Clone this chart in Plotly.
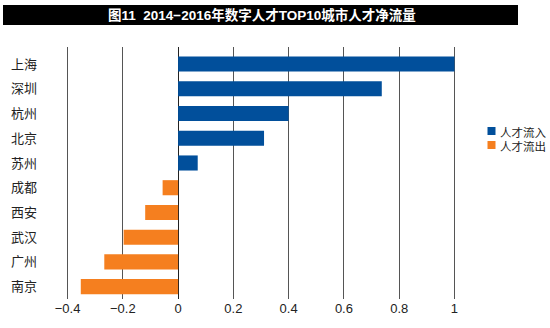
import plotly.graph_objects as go

# 2014-2016 net flow of digital talent, top 10 cities
cities = ["上海", "深圳", "杭州", "北京", "苏州", "成都", "西安", "武汉", "广州", "南京"]
net_flow = [1.0, 0.737, 0.40, 0.311, 0.071, -0.056, -0.119, -0.197, -0.267, -0.352]
tick_vals = [-0.4, -0.2, 0, 0.2, 0.4, 0.6, 0.8, 1]
tick_text = ["\u22120.4", "\u22120.2", "0", "0.2", "0.4", "0.6", "0.8", "1"]
title_text = "图11  2014\u22122016年数字人才TOP10城市人才净流量"

inflow_name = "人才流入"
outflow_name = "人才流出"
inflow_color = "#014f9b"
outflow_color = "#f57f1f"

font_family = "Liberation Sans, Arial, Noto Sans CJK SC, sans-serif"
cjk_family = "Noto Sans CJK SC, sans-serif"

fig = go.Figure()
fig.add_trace(go.Bar(
    y=[c for c, v in zip(cities, net_flow) if v >= 0],
    x=[v for v in net_flow if v >= 0],
    orientation="h", name=inflow_name, marker=dict(color=inflow_color, line=dict(width=0)),
))
fig.add_trace(go.Bar(
    y=[c for c, v in zip(cities, net_flow) if v < 0],
    x=[v for v in net_flow if v < 0],
    orientation="h", name=outflow_name, marker=dict(color=outflow_color, line=dict(width=0)),
))

W, H = 550, 328
ml, mr, mt, mb = 62, 90, 47, 29
pw, ph = W - ml - mr, H - mt - mb

def px_x(p):
    return (p - ml) / pw

def px_y(p):
    return (H - mb - p) / ph

# black title banner
fig.add_shape(type="rect", xref="paper", yref="paper",
              x0=px_x(3), x1=px_x(518), y0=px_y(25), y1=px_y(5),
              fillcolor="black", line=dict(width=0), layer="above")
fig.add_annotation(xref="paper", yref="paper", x=px_x(262), y=px_y(15),
                   text="<b>" + title_text.replace("  ", "&nbsp;&nbsp;") + "</b>", showarrow=False,
                   font=dict(color="white", size=13.5, family=font_family),
                   xanchor="center", yanchor="middle")

# compact legend at the right: small colour squares with their labels
legend_items = [(inflow_name, inflow_color, 131), (outflow_name, outflow_color, 145)]
for label, color, cy in legend_items:
    fig.add_shape(type="rect", xref="paper", yref="paper",
                  x0=px_x(487.5), x1=px_x(495.5), y0=px_y(cy + 4), y1=px_y(cy - 4),
                  fillcolor=color, line=dict(width=0))
    fig.add_annotation(xref="paper", yref="paper", x=px_x(499), y=px_y(cy),
                       text=label, showarrow=False, xanchor="left", yanchor="middle",
                       height=13, borderpad=0,
                       font=dict(size=11.5, family=cjk_family, color="#222"))

fig.update_layout(
    width=W, height=H,
    margin=dict(l=ml, r=mr, t=mt, b=mb, pad=0, autoexpand=False),
    paper_bgcolor="white", plot_bgcolor="white",
    barmode="relative", bargap=0.39,
    font=dict(family=font_family, size=13, color="#222"),
    showlegend=False,
    xaxis=dict(range=[-0.42, 1.02], tickvals=tick_vals, ticktext=tick_text,
               showgrid=True, gridcolor="#555", gridwidth=1,
               zeroline=True, zerolinecolor="#222", zerolinewidth=1,
               showline=False, ticks="", tickfont=dict(size=13, color="#222"),
               fixedrange=True),
    yaxis=dict(categoryorder="array", categoryarray=cities,
               range=[9.5, -0.69], showgrid=False, zeroline=False, showline=False,
               ticks="", ticklabelstandoff=24,
               tickfont=dict(size=13, family=cjk_family, color="#222")),
)

fig.write_html("out.html")
